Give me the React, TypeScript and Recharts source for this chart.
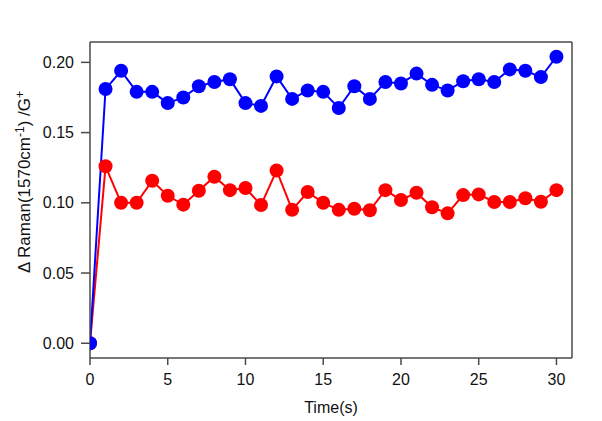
import React from "react"
import { LineChart, Line, XAxis, YAxis, ReferenceLine } from "recharts"

// time in seconds
const times = [0, 1, 2, 3, 4, 5, 6, 7, 8, 9, 10, 11, 12, 13, 14, 15, 16, 17, 18, 19, 20, 21, 22, 23, 24, 25, 26, 27, 28, 29, 30]

const blueValues = [
  0, 0.181, 0.194, 0.179, 0.179, 0.171, 0.175, 0.183, 0.186, 0.188, 0.171, 0.169, 0.19, 0.174, 0.18, 0.179,
  0.1675, 0.183, 0.174, 0.186, 0.185, 0.192, 0.184, 0.18, 0.1865, 0.188, 0.186, 0.195, 0.194, 0.1895, 0.204,
]

const redValues = [
  0, 0.126, 0.1, 0.1, 0.1157, 0.105, 0.0987, 0.1086, 0.1186, 0.109, 0.1105, 0.0984, 0.123, 0.095, 0.1077, 0.1,
  0.095, 0.0958, 0.0947, 0.109, 0.102, 0.1072, 0.0968, 0.0925, 0.1055, 0.106, 0.1006, 0.1006, 0.1032, 0.1008, 0.109,
]

const xTicks = [0, 5, 10, 15, 20, 25, 30]
const yTicks = [0, 0.05, 0.1, 0.15, 0.2]

const data = times.map((t, i) => ({ t, blue: blueValues[i], red: redValues[i] }))

const FONT = "'Liberation Sans', Arial, sans-serif"
const AXIS = "#4a4a4a"

function YLabel() {
  return (
    <text
      x={0}
      y={0}
      transform="translate(30, 182) rotate(-90)"
      textAnchor="middle"
      fontFamily={FONT}
      fontSize={17}
      fill="#111"
    >
      Δ Raman(1570cm
      <tspan fontSize={12} dy={-6}>-1</tspan>
      <tspan dy={6}>) /G</tspan>
      <tspan fontSize={12} dy={-6}>+</tspan>
    </text>
  )
}

export default function App() {
  return (
    <div style={{ position: "absolute", left: 0, top: 0, width: 602, height: 421, background: "#fff" }}>
      <LineChart width={602} height={421} data={data} margin={{ top: 42, right: 30, bottom: 0, left: 0 }}>
        <XAxis
          dataKey="t"
          type="number"
          domain={[0, 31]}
          ticks={xTicks}
          allowDataOverflow
          stroke={AXIS}
          strokeWidth={1.5}
          tickSize={7}
          tickMargin={9}
          tick={{ fill: "#111", fontSize: 16, fontFamily: FONT }}
          label={{ value: "Time(s)", position: "insideBottom", offset: 8, fill: "#111", fontSize: 16, fontFamily: FONT }}
          height={63}
        />
        <YAxis
          type="number"
          domain={[-0.0105, 0.2145]}
          ticks={yTicks}
          allowDataOverflow
          width={90}
          stroke={AXIS}
          strokeWidth={1.5}
          tickSize={9}
          tickMargin={7}
          tickFormatter={(v: number) => v.toFixed(2)}
          tick={{ fill: "#111", fontSize: 16, fontFamily: FONT }}
          label={<YLabel />}
        />
        <ReferenceLine y={0.2145} stroke={AXIS} strokeWidth={1.5} />
        <ReferenceLine x={31} stroke={AXIS} strokeWidth={1.5} />
        <Line
          dataKey="red"
          stroke="#ff0000"
          strokeWidth={2}
          dot={{ r: 7, fill: "#ff0000", stroke: "none" }}
          isAnimationActive={false}
        />
        <Line
          dataKey="blue"
          stroke="#0000ff"
          strokeWidth={2}
          dot={{ r: 7, fill: "#0000ff", stroke: "none" }}
          isAnimationActive={false}
        />
      </LineChart>
    </div>
  )
}
